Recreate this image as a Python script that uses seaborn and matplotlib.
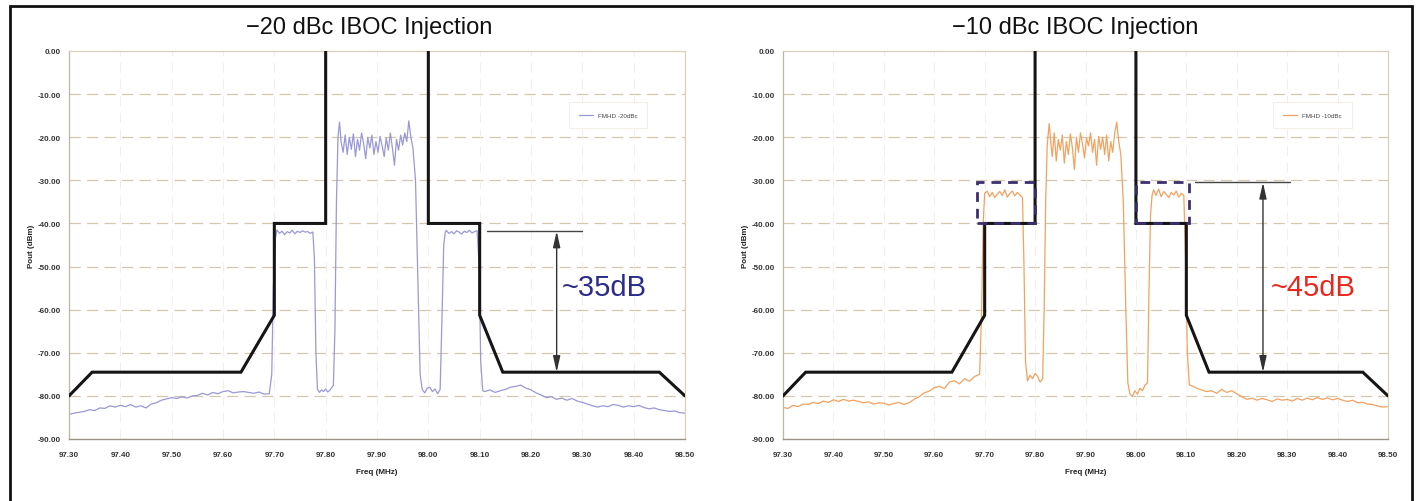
import numpy as np
import pandas as pd
import matplotlib
matplotlib.use("Agg")
import matplotlib.pyplot as plt
from matplotlib.patches import Rectangle
import seaborn as sns

# ---------------- data ----------------
titles = ["\u221220 dBc IBOC Injection", "\u221210 dBc IBOC Injection"]
series_names = ["FMHD -20dBc", "FMHD -10dBc"]
x_ticks = [97.30, 97.40, 97.50, 97.60, 97.70, 97.80, 97.90, 98.00, 98.10, 98.20, 98.30, 98.40, 98.50]
y_ticks = [0, -10, -20, -30, -40, -50, -60, -70, -80, -90]

# frequency grid of the measured traces (MHz)
floor_left_f = np.round(np.arange(97.30, 97.695, 0.01), 3)
floor_right_f = np.round(np.arange(98.11, 98.505, 0.01), 3)
side_lo_f = np.round(np.arange(97.705, 97.7751, 0.005), 3)
side_hi_f = np.round(np.arange(98.035, 98.0951, 0.005), 3)
center_f = np.round(np.arange(97.834, 97.9581, 0.004), 3)

# ---- -20 dBc trace ----
p20_floor_left = [-84.3, -84.0, -83.8, -83.6, -83.2, -83.4, -82.8, -82.9, -82.3, -82.6,
                  -82.2, -82.5, -82.0, -82.6, -82.3, -82.8, -81.9, -81.6, -81.0, -80.7,
                  -80.4, -80.6, -80.2, -80.5, -80.0, -79.9, -79.4, -79.8, -79.2, -79.5,
                  -79.0, -78.8, -79.3, -79.1, -79.0, -79.2, -79.4, -79.1, -79.6, -79.5]
f20_rise_lo = [97.695, 97.698, 97.702]
p20_rise_lo = [-75.0, -55.0, -43.5]
p20_side_lo = [-41.5, -42.3, -41.8, -42.6, -41.9, -42.2, -41.6, -42.4, -41.8, -42.1,
               -41.7, -42.0, -41.9, -42.3, -42.0]
f20_gap_lo = [97.778, 97.781, 97.784, 97.788, 97.792, 97.796, 97.800, 97.804, 97.808,
              97.812, 97.815, 97.818, 97.821, 97.824, 97.827, 97.830]
p20_gap_lo = [-48.0, -70.0, -78.5, -79.2, -78.6, -79.0, -78.4, -79.1, -78.7, -78.0,
              -77.5, -65.0, -35.0, -20.0, -16.5, -21.0]
p20_center = [-23.5, -19.5, -24.0, -20.0, -22.8, -19.2, -24.5, -20.5, -23.0, -19.0,
              -21.5, -25.0, -20.0, -22.5, -19.5, -24.0, -21.0, -23.5, -19.8, -22.0,
              -24.5, -20.2, -23.0, -19.0, -22.5, -26.5, -20.5, -23.0, -19.5, -21.8,
              -19.0, -21.0]
f20_gap_hi = [97.962, 97.966, 97.970, 97.975, 97.980, 97.984, 97.988, 97.993, 97.998,
              98.003, 98.008, 98.013, 98.018, 98.023, 98.027, 98.030, 98.033]
p20_gap_hi = [-16.2, -20.0, -22.5, -30.0, -55.0, -75.0, -78.5, -79.3, -78.2,
              -78.0, -79.0, -78.4, -79.5, -78.5, -60.0, -45.0, -42.0]
p20_side_hi = [-41.6, -42.3, -41.9, -42.4, -41.7, -42.0, -42.5, -41.8, -42.1, -41.6,
               -42.2, -41.9, -41.7]
f20_fall_hi = [98.099, 98.102, 98.106]
p20_fall_hi = [-50.0, -72.0, -78.8]
p20_floor_right = [-79.0, -78.6, -79.2, -78.8, -78.5, -78.0, -77.8, -77.5, -78.2, -78.6,
                   -79.3, -79.8, -80.4, -80.2, -80.8, -80.5, -81.0, -80.6, -81.2, -81.5,
                   -81.9, -82.3, -82.6, -82.3, -82.5, -82.0, -82.2, -82.6, -82.3, -82.5,
                   -82.2, -82.7, -83.0, -82.8, -83.2, -83.4, -83.6, -83.5, -83.9, -84.0]

# ---- -10 dBc trace ----
p10_floor_left = [-82.7, -82.9, -82.2, -82.5, -81.9, -82.0, -81.5, -81.8, -81.2, -81.5,
                  -80.9, -81.3, -80.8, -81.2, -81.0, -81.3, -81.6, -81.4, -81.9, -81.6,
                  -81.7, -82.1, -81.8, -81.5, -82.0, -81.6, -80.8, -80.2, -79.3, -78.9,
                  -78.1, -77.8, -78.3, -76.8, -76.5, -77.2, -76.0, -76.6, -75.5, -75.0]
f10_rise_lo = [97.694, 97.697, 97.700]
p10_rise_lo = [-60.0, -40.0, -33.0]
p10_side_lo = [-32.5, -33.8, -32.8, -34.0, -33.2, -32.6, -33.5, -32.2, -33.9, -33.0,
               -32.5, -33.6, -32.8, -33.4, -34.0]
f10_gap_lo = [97.778, 97.781, 97.785, 97.790, 97.795, 97.800, 97.805, 97.810, 97.815,
              97.818, 97.821, 97.824, 97.828, 97.831]
p10_gap_lo = [-50.0, -72.0, -76.5, -75.2, -76.0, -74.8, -75.5, -76.8, -76.0,
              -60.0, -35.0, -22.0, -16.8, -21.0]
p10_center = [-24.5, -19.0, -25.5, -20.5, -23.0, -19.5, -26.0, -21.0, -24.0, -19.2,
              -22.5, -27.5, -20.0, -23.5, -19.0, -21.5, -24.8, -20.2, -22.0, -19.0,
              -23.5, -20.5, -26.5, -19.8, -22.8, -20.0, -24.0, -19.5, -25.5, -21.0,
              -23.5, -19.0]
f10_gap_hi = [97.962, 97.966, 97.970, 97.975, 97.980, 97.984, 97.988, 97.993, 97.998,
              98.003, 98.008, 98.013, 98.018, 98.023, 98.026, 98.029, 98.032]
p10_gap_hi = [-16.5, -21.0, -24.0, -35.0, -60.0, -77.0, -79.5, -80.2, -78.8,
              -79.6, -78.2, -78.8, -77.5, -77.0, -55.0, -38.0, -33.5]
p10_side_hi = [-32.2, -33.5, -32.0, -33.8, -32.6, -33.2, -34.0, -32.8, -33.4, -32.5,
               -33.9, -33.0, -33.5]
f10_fall_hi = [98.099, 98.102, 98.106]
p10_fall_hi = [-50.0, -70.0, -77.5]
p10_floor_right = [-77.6, -78.2, -78.6, -79.0, -78.8, -79.4, -78.5, -79.2, -78.8, -79.5,
                   -80.2, -80.8, -80.5, -81.0, -80.6, -80.9, -81.3, -80.7, -81.0, -80.8,
                   -81.2, -80.6, -81.0, -80.5, -80.9, -80.4, -80.8, -80.5, -80.9, -80.6,
                   -81.0, -81.3, -81.0, -81.6, -81.5, -81.9, -82.0, -82.4, -82.6, -82.5]

# spectral emission mask (two pieces)
mask_lo_f = [97.30, 97.345, 97.635, 97.70, 97.70, 97.80, 97.80]
mask_lo_p = [-80.0, -74.5, -74.5, -61.3, -40.0, -40.0, 0.0]
mask_hi_f = [98.00, 98.00, 98.10, 98.10, 98.145, 98.45, 98.50]
mask_hi_p = [0.0, -40.0, -40.0, -61.3, -74.5, -74.5, -80.0]

# annotation values
ref_levels = [-41.8, -30.5]
mask_floor = -74.5
delta_labels = ["~35dB", "~45dB"]
delta_colors = ["#2b2b8c", "#e8281e"]
trace_colors = ["#9a98d6", "#f2a160"]


def build(parts_f, parts_p):
    f = np.concatenate([np.asarray(a, float) for a in parts_f])
    p = np.concatenate([np.asarray(a, float) for a in parts_p])
    return pd.DataFrame({"Freq (MHz)": f, "Pout (dBm)": p})


df20 = build([floor_left_f, f20_rise_lo, side_lo_f, f20_gap_lo, center_f, f20_gap_hi,
              side_hi_f, f20_fall_hi, floor_right_f],
             [p20_floor_left, p20_rise_lo, p20_side_lo, p20_gap_lo, p20_center, p20_gap_hi,
              p20_side_hi, p20_fall_hi, p20_floor_right])
df10 = build([floor_left_f, f10_rise_lo, side_lo_f, f10_gap_lo, center_f, f10_gap_hi,
              side_hi_f, f10_fall_hi, floor_right_f],
             [p10_floor_left, p10_rise_lo, p10_side_lo, p10_gap_lo, p10_center, p10_gap_hi,
              p10_side_hi, p10_fall_hi, p10_floor_right])

# ---------------- figure ----------------
sns.set_theme(style="white")
plt.rcParams["font.family"] = ["Liberation Sans", "DejaVu Sans"]

W, H = 1417, 502
fig = plt.figure(figsize=(W / 100, H / 100), dpi=100)
fig.patch.set_facecolor("white")

# outer frame
fig.add_artist(Rectangle((10 / W, -0.05), (1412 - 10) / W, 1 - 7 / H + 0.05,
                         transform=fig.transFigure, fill=False, edgecolor="#111111", lw=2))

axes_px = [(69, 685), (783, 1388)]
top_px, bot_px = 52, 440
title_x = [369, 1075]

for i, (df, ax_px) in enumerate(zip([df20, df10], axes_px)):
    ax = fig.add_axes([ax_px[0] / W, 1 - bot_px / H, (ax_px[1] - ax_px[0]) / W,
                       (bot_px - top_px) / H])
    ax.set_xlim(97.30, 98.50)
    ax.set_ylim(-90, 0)

    # grid
    for y in y_ticks[1:-1]:
        ax.axhline(y, color="#d2c8b0", lw=0.9, ls=(0, (9, 5)), zorder=0)
    for x in x_ticks[1:-1]:
        ax.axvline(x, color="#f1ede4", lw=0.6, ls=(0, (12, 8)), zorder=0)

    sns.lineplot(data=df, x="Freq (MHz)", y="Pout (dBm)", ax=ax, color=trace_colors[i],
                 lw=0.9, estimator=None, sort=False, label=series_names[i], zorder=2)

    ax.plot(mask_lo_f, mask_lo_p, color="#151515", lw=2.2, zorder=4, solid_joinstyle="miter")
    ax.plot(mask_hi_f, mask_hi_p, color="#151515", lw=2.2, zorder=4, solid_joinstyle="miter")

    # reference line and delta arrow
    lvl = ref_levels[i]
    if i == 0:
        ax.plot([98.115, 98.30], [lvl, lvl], color="#444444", lw=1.0, zorder=3)
        ax_x = 98.25
        txt_x = 98.25 + 0.01
    else:
        ax.plot([98.118, 98.306], [lvl, lvl], color="#444444", lw=1.0, zorder=3)
        ax_x = 98.252
        txt_x = 98.252 + 0.015
        # dashed boxes around the raised sidebands
        for (x0, x1) in [(97.685, 97.80), (98.00, 98.105)]:
            ax.add_patch(Rectangle((x0, -40.0), x1 - x0, 40.0 + lvl, fill=False,
                                   edgecolor="#3b2f6e", lw=2.0, ls=(0, (3.5, 2.5)), zorder=5))
    ax.annotate("", xy=(ax_x, mask_floor), xytext=(ax_x, lvl),
                arrowprops=dict(arrowstyle="<|-|>,head_length=0.8,head_width=0.18",
                                color="#333333", lw=1.0, shrinkA=0, shrinkB=0), zorder=3)
    ax.text(txt_x, -54.7, delta_labels[i], color=delta_colors[i], fontsize=21,
            ha="left", va="center", zorder=6)

    # ticks / labels
    ax.set_xticks(x_ticks)
    ax.set_xticklabels([f"{v:.2f}" for v in x_ticks])
    ax.set_yticks(y_ticks)
    ax.set_yticklabels([f"{v:.2f}" if v != 0 else "0.00" for v in y_ticks])
    ax.tick_params(axis="both", labelsize=5.8, colors="#333333", length=2, width=0.6,
                   pad=4, direction="out")
    for lab in ax.get_xticklabels() + ax.get_yticklabels():
        lab.set_fontweight("bold")
    ax.tick_params(axis="x", pad=7)
    ax.set_xlabel("Freq (MHz)", fontsize=5.8, fontweight="bold", color="#222222", labelpad=7)
    ax.set_ylabel("Pout (dBm)", fontsize=5.8, fontweight="bold", color="#222222", labelpad=2)

    for s in ["top", "right"]:
        ax.spines[s].set_color("#d8d0bc")
        ax.spines[s].set_linewidth(0.9)
    ax.spines["left"].set_color("#bdb6a4")
    ax.spines["bottom"].set_color("#9a9486")
    ax.spines["left"].set_linewidth(0.9)
    ax.spines["bottom"].set_linewidth(1.0)

    leg = ax.legend(loc="center", bbox_to_anchor=(0.875, 0.835), fontsize=4.5, frameon=True,
                    handlelength=2.2, borderpad=1.6, fancybox=False)
    leg.get_frame().set_edgecolor("#ece6d8")
    leg.get_frame().set_linewidth(0.6)
    for t in leg.get_texts():
        t.set_color("#444444")

    fig.text(title_x[i] / W, 1 - 28 / H, titles[i], fontsize=17, ha="center",
             va="center", color="#111111")

fig.savefig("out.png", dpi=100, facecolor="white")
